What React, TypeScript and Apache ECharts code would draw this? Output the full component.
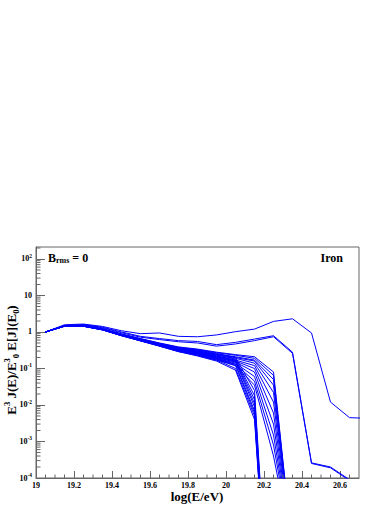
import React, { useEffect, useRef } from 'react';
import * as echarts from 'echarts';

// bin centres, log(E/eV)
const X = [19.05, 19.15, 19.25, 19.35, 19.45, 19.55, 19.65, 19.75, 19.85, 19.95, 20.05, 20.15, 20.25, 20.35, 20.45, 20.55, 20.65, 20.75];

// upper curves
const curveA = [1.0, 1.58, 1.65, 1.42, 1.08, 0.9, 0.94, 0.76, 0.74, 0.83, 1.02, 1.2, 1.95, 2.3, 0.94, 0.012, 0.0045, 0.0043];
const curveB1 = [1.0, 1.5, 1.6, 1.35, 1.0, 0.76, 0.66, 0.58, 0.55, 0.45, 0.52, 0.64, 0.79, 0.28, 2.6e-4, 2.0e-4, 9e-5];
const curveB2 = [1.0, 1.5, 1.58, 1.3, 0.95, 0.72, 0.62, 0.54, 0.5, 0.41, 0.47, 0.58, 0.74, 0.26, 2.5e-4, 1.9e-4, 8.5e-5];

// bundle of curves
const line01 = [1.0, 1.5, 1.5, 1.22, 0.88, 0.66, 0.5, 0.39, 0.34, 0.28, 0.24, 0.21, 0.08, 1e-6];
const line02 = [1.0, 1.49, 1.49, 1.21, 0.87, 0.65, 0.49, 0.38, 0.33, 0.27, 0.23, 0.19, 0.065, 1e-6];
const line03 = [1.0, 1.49, 1.49, 1.21, 0.87, 0.64, 0.48, 0.37, 0.32, 0.26, 0.2, 0.025, 1e-10];
const line04 = [1.0, 1.48, 1.49, 1.2, 0.86, 0.64, 0.48, 0.37, 0.31, 0.25, 0.21, 0.17, 0.05, 1e-6];
const line05 = [1.0, 1.48, 1.48, 1.2, 0.86, 0.63, 0.47, 0.36, 0.3, 0.24, 0.2, 0.16, 0.035, 1e-6];
const line06 = [1.0, 1.48, 1.48, 1.19, 0.85, 0.63, 0.47, 0.35, 0.3, 0.24, 0.18, 0.018, 1e-10];
const line07 = [1.0, 1.47, 1.48, 1.19, 0.85, 0.62, 0.46, 0.35, 0.29, 0.23, 0.19, 0.14, 0.022, 1e-6];
const line08 = [1.0, 1.47, 1.47, 1.18, 0.84, 0.62, 0.46, 0.34, 0.28, 0.22, 0.17, 0.014, 1e-10];
const line09 = [1.0, 1.47, 1.47, 1.18, 0.84, 0.61, 0.45, 0.34, 0.28, 0.22, 0.17, 0.12, 0.012, 1e-6];
const line10 = [1.0, 1.46, 1.47, 1.18, 0.83, 0.61, 0.45, 0.33, 0.27, 0.21, 0.16, 0.011, 1e-10];
const line11 = [1.0, 1.46, 1.46, 1.17, 0.83, 0.6, 0.44, 0.33, 0.27, 0.21, 0.16, 0.1, 0.006, 1e-6];
const line12 = [1.0, 1.46, 1.46, 1.17, 0.82, 0.6, 0.44, 0.32, 0.26, 0.2, 0.15, 0.009, 1e-10];
const line13 = [1.0, 1.45, 1.46, 1.16, 0.82, 0.6, 0.43, 0.32, 0.26, 0.2, 0.15, 0.08, 0.003, 1e-6];
const line14 = [1.0, 1.45, 1.45, 1.16, 0.81, 0.59, 0.43, 0.31, 0.25, 0.19, 0.13, 0.007, 1e-10];
const line15 = [1.0, 1.45, 1.45, 1.16, 0.81, 0.59, 0.43, 0.31, 0.25, 0.19, 0.14, 0.06, 0.0015, 1e-6];
const line16 = [1.0, 1.44, 1.45, 1.15, 0.8, 0.58, 0.42, 0.3, 0.24, 0.18, 0.12, 0.006, 1e-10];
const line17 = [1.0, 1.44, 1.44, 1.15, 0.8, 0.58, 0.42, 0.3, 0.24, 0.18, 0.13, 0.045, 0.0008, 1e-6];
const line18 = [1.0, 1.44, 1.44, 1.15, 0.8, 0.58, 0.42, 0.3, 0.23, 0.17, 0.1, 0.005, 1e-10];
const line19 = [1.0, 1.43, 1.44, 1.14, 0.79, 0.57, 0.41, 0.29, 0.23, 0.17, 0.12, 0.035, 0.0004, 1e-6];
const line20 = [1.0, 1.43, 1.43, 1.14, 0.79, 0.57, 0.41, 0.29, 0.22, 0.16, 0.09, 0.004, 1e-10];

const allCurves = [curveA, curveB1, curveB2, line01, line02, line03, line04, line05, line06, line07, line08, line09, line10,
  line11, line12, line13, line14, line15, line16, line17, line18, line19, line20];

// axes
const X_MIN = 19;
const X_MAX = 20.7;
const X_STEP = 0.2;
const X_MINOR_STEP = 0.05;
const Y_MIN = 1e-4;
const Y_MAX = 213;

const FONT = "'Liberation Serif', 'Times New Roman', serif";
const AXIS_COLOR = '#666';

function pairs(vals: number[]) {
  return vals.map((v, i) => [X[i], v]).filter((p) => p[1] != null);
}

function buildMinorTicks() {
  const out: number[][] = [];
  for (let e = -4; e <= 2; e++) {
    for (let k = 2; k <= 9; k++) {
      const v = k * Math.pow(10, e);
      if (v < Y_MAX) out.push([X_MIN, v, 0]);
    }
  }
  const n = Math.round((X_MAX - X_MIN) / X_MINOR_STEP);
  const per = Math.round(X_STEP / X_MINOR_STEP);
  for (let i = 1; i < n; i++) {
    if (i % per !== 0) out.push([+(X_MIN + i * X_MINOR_STEP).toFixed(3), Y_MIN, 1]);
  }
  return out;
}

export default function App() {
  const ref = useRef<HTMLDivElement>(null);
  useEffect(() => {
    const chart = echarts.init(ref.current!, null, { renderer: 'svg' });
    const lineSeries = allCurves.map((c) => ({
      type: 'line',
      data: pairs(c),
      symbol: 'none',
      showSymbol: false,
      clip: true,
      silent: true,
      lineStyle: { color: '#0000ff', width: 1 },
      z: 3,
    }));
    const option: any = {
      animation: false,
      backgroundColor: '#fff',
      grid: {
        left: 36, right: 31, top: 247, bottom: 27,
        show: true, borderColor: AXIS_COLOR, borderWidth: 1, backgroundColor: '#fff',
      },
      xAxis: {
        type: 'value', min: X_MIN, max: X_MAX, interval: X_STEP,
        axisLine: { show: true, lineStyle: { color: AXIS_COLOR, width: 1 } },
        axisTick: { show: true, inside: true, length: 7, lineStyle: { color: AXIS_COLOR } },
        splitLine: { show: false },
        axisLabel: {
          show: true, showMaxLabel: false, margin: 3, color: '#000',
          fontFamily: FONT, fontWeight: 'bold', fontSize: 8,
        },
      },
      yAxis: {
        type: 'log', logBase: 10, min: Y_MIN, max: Y_MAX,
        axisLine: { show: true, lineStyle: { color: AXIS_COLOR, width: 1 } },
        axisTick: { show: true, inside: true, length: 9, lineStyle: { color: AXIS_COLOR } },
        splitLine: { show: false },
        axisLabel: {
          show: true, showMaxLabel: false, margin: 4, color: '#000',
          fontFamily: FONT, fontWeight: 'bold', fontSize: 8, lineHeight: 12,
          formatter: (v: number) => {
            const l = Math.log10(v);
            const e = Math.round(l);
            if (Math.abs(l - e) > 1e-6) return '';
            if (e === 0) return '1';
            if (e === 1) return '10';
            return `10{s|${e}}`;
          },
          rich: {
            s: { fontSize: 5.5, lineHeight: 6, verticalAlign: 'top', fontFamily: FONT, fontWeight: 'bold', color: '#000' },
          },
        },
      },
      graphic: [
        {
          type: 'text', x: 48, y: 257.5, z: 10,
          style: {
            text: '{b|B}{s|rms}{b| = 0}',
            align: 'left', verticalAlign: 'middle',
            rich: {
              b: { fontSize: 12, lineHeight: 14, fontFamily: FONT, fontWeight: 'bold', fill: '#000' },
              s: { fontSize: 8, lineHeight: 8, verticalAlign: 'bottom', fontFamily: FONT, fontWeight: 'bold', fill: '#000' },
            },
          },
        },
        {
          type: 'text', x: 343, y: 257.5, z: 10,
          style: {
            text: 'Iron', align: 'right', verticalAlign: 'middle',
            fontSize: 12, fontFamily: FONT, fontWeight: 'bold', fill: '#000',
          },
        },
        {
          type: 'text', x: 197, y: 496.5, z: 10,
          style: {
            text: 'log(E/eV)', align: 'center', verticalAlign: 'middle',
            fontSize: 13, fontFamily: FONT, fontWeight: 'bold', fill: '#000',
          },
        },
        {
          type: 'text', x: 11, y: 360, rotation: Math.PI / 2, z: 10,
          style: {
            text: '{t|E}{p|3}{t| J(E)/E}{p|3}{d|0}{t| E[J](E}{d|0}{t|)}',
            align: 'center', verticalAlign: 'middle',
            rich: {
              t: { fontSize: 13, lineHeight: 18, fontFamily: FONT, fontWeight: 'bold', fill: '#000' },
              p: { fontSize: 8.5, lineHeight: 9, verticalAlign: 'top', fontFamily: FONT, fontWeight: 'bold', fill: '#000' },
              d: { fontSize: 8.5, lineHeight: 9, verticalAlign: 'bottom', fontFamily: FONT, fontWeight: 'bold', fill: '#000' },
            },
          },
        },
      ],
      series: [
        ...lineSeries,
        {
          type: 'custom',
          silent: true,
          z: 4,
          clip: false,
          encode: { x: 0, y: 1 },
          data: buildMinorTicks(),
          renderItem: (_params: any, api: any) => {
            const p = api.coord([api.value(0), api.value(1)]);
            const o = api.value(2);
            const shape = o === 0
              ? { x1: p[0], y1: p[1], x2: p[0] + 4.5, y2: p[1] }
              : { x1: p[0], y1: p[1], x2: p[0], y2: p[1] - 3.5 };
            return { type: 'line', shape, style: { stroke: AXIS_COLOR, lineWidth: 1 } };
          },
        },
      ],
    };
    chart.setOption(option);
    return () => chart.dispose();
  }, []);
  return (
    <div
      ref={ref}
      style={{ position: 'fixed', left: 0, top: 0, width: 390, height: 505, background: '#fff' }}
    />
  );
}
